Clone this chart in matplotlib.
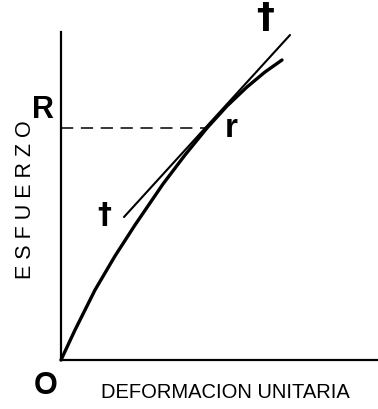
import matplotlib
matplotlib.use("Agg")
import matplotlib.pyplot as plt

# stress-strain curve (strain, stress), arbitrary units
strain = [0, 14, 34, 54, 74, 102, 124, 146, 166, 186, 204, 221]
stress = [0, 30, 70, 104, 135, 176, 205, 232, 254, 273, 288, 300]

# tangent at point r
tangent_x = [63, 229]
tangent_y = [143, 325]

# point r on the curve
r_x = 146
r_y = 232

fnt = ['Liberation Sans Narrow', 'Liberation Sans', 'DejaVu Sans']
plt.rcParams['font.family'] = fnt

fig = plt.figure(figsize=(3.78, 4.09), dpi=100)
ax = fig.add_axes([61 / 378, 49 / 409, 316 / 378, 328 / 409])
ax.set_xlim(0, 316)
ax.set_ylim(0, 328)

ax.spines['top'].set_visible(False)
ax.spines['right'].set_visible(False)
ax.spines['left'].set_linewidth(1.6)
ax.spines['bottom'].set_linewidth(1.6)
ax.set_xticks([])
ax.set_yticks([])

ax.plot(strain, stress, color='black', lw=2.4, solid_capstyle='round',
        solid_joinstyle='round', clip_on=False)
ax.plot(tangent_x, tangent_y, color='black', lw=1.5, solid_capstyle='round', clip_on=False)
ax.plot([0, r_x], [r_y, r_y], color='black', lw=1.1, dashes=(8, 5))

# labels
ax.text(-18, r_y + 18, 'R', fontsize=22, fontweight='bold', ha='center', va='center')
ax.text(r_x + 24, r_y - 1, 'r', fontsize=24, fontweight='bold', ha='center', va='center')
ax.text(-15, -26, 'O', fontsize=22, fontweight='bold', ha='center', va='center')
ax.text(204, 342, '\u2020', fontsize=26, fontweight='bold', ha='center', va='center',
        family='DejaVu Sans', clip_on=False)
ax.text(43, 145, '\u2020', fontsize=20, fontweight='bold', ha='center', va='center',
        family='DejaVu Sans')

fig.text(225 / 378, 1 - 393 / 409, 'DEFORMACION UNITARIA', fontsize=14.5,
         ha='center', va='center')
fig.text(26 / 378, 1 - 200 / 409, 'E S F U E R Z O', fontsize=15.5,
         rotation=90, ha='center', va='center')

fig.savefig('out.png', dpi=100)
